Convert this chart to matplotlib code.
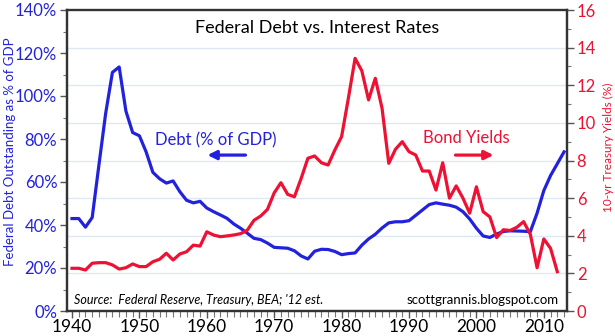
import numpy as np
import matplotlib
matplotlib.use("Agg")
import matplotlib.pyplot as plt
from matplotlib.ticker import MultipleLocator, FuncFormatter

# federal debt outstanding, % of GDP (year-end, '12 est)
debt_years = np.arange(1940, 2014)
debt_pct = [43, 43, 39, 43.5, 68, 92, 111, 113.5, 93, 83,
            81.5, 74, 64.5, 61.5, 59.5, 60.5, 55.5, 51.5, 50.3, 51,
            47.9, 46.2, 44.7, 43.1, 40.5, 38.5, 36.2, 33.8, 33.2, 31.6,
            29.6, 29.4, 29.2, 28, 25.6, 24.2, 27.8, 28.7, 28.6, 27.7,
            26.2, 26.7, 27, 30.6, 33.5, 35.7, 38.6, 41, 41.5, 41.5,
            42, 44.5, 47, 49.5, 50.3, 49.7, 49.2, 48.3, 46.2, 42.8,
            38.5, 34.9, 34.2, 35.8, 37, 37.3, 37.2, 37.1, 36.9, 45.5,
            56, 63, 68.5, 74]

# 10-yr treasury yield, %
yield_years = np.arange(1940, 2013)
yield_pct = [2.27, 2.27, 2.18, 2.54, 2.57, 2.57, 2.45, 2.23, 2.30, 2.50,
             2.36, 2.36, 2.62, 2.75, 3.07, 2.71, 3.03, 3.15, 3.5, 3.45,
             4.21, 4.04, 3.95, 3.99, 4.04, 4.11, 4.29, 4.82, 5.05, 5.4,
             6.28, 6.82, 6.2, 6.07, 7.05, 8.12, 8.24, 7.88, 7.76, 8.56,
             9.27, 11.3, 13.43, 12.77, 11.22, 12.37, 10.78, 7.85, 8.6, 9.0,
             8.47, 8.29, 7.44, 7.44, 6.43, 7.88, 6.0, 6.65, 6.0, 5.2,
             6.6, 5.28, 5.0, 3.9, 4.32, 4.28, 4.45, 4.75, 4.08, 2.3,
             3.83, 3.33, 2.09]

blue = '#2222dd'
red = '#ee1133'
grid_c = '#dde8f2'
fam = ['Lato', 'DejaVu Sans']

fig = plt.figure(figsize=(6.15, 3.36), dpi=100)
ax = fig.add_axes([67/615, 25/336, 500/615, 301/336])
ax2 = ax.twinx()

ax.set_xlim(1939.26, 2013.44)
ax.set_ylim(0, 140)
ax2.set_ylim(0, 16)

# grid follows the right axis ticks, drawn on the left axes so it stays under the lines
for g in np.arange(2, 16, 2):
    ax.axhline(g * 140 / 16, color=grid_c, lw=1, zorder=0)

ax.plot(debt_years, debt_pct, color=blue, lw=2.3, solid_joinstyle='round', zorder=3)
ax2.plot(yield_years, yield_pct, color=red, lw=2.3, solid_joinstyle='round', zorder=3)

ax.xaxis.set_major_locator(MultipleLocator(10))
ax.xaxis.set_minor_locator(MultipleLocator(1))
ax.yaxis.set_major_locator(MultipleLocator(20))
ax.yaxis.set_minor_locator(MultipleLocator(10))
ax.yaxis.set_major_formatter(FuncFormatter(lambda v, p: '%d%%' % v))
ax2.yaxis.set_major_locator(MultipleLocator(2))
ax2.yaxis.set_minor_locator(MultipleLocator(1))

for a in (ax, ax2):
    for s in a.spines.values():
        s.set_color('#333333')
        s.set_linewidth(1.6)
ax.spines['top'].set_color('#777777')

ax.tick_params(axis='x', which='major', length=5, width=1, color='#555555',
               labelsize=12.5, labelcolor='black', pad=1)
ax.tick_params(axis='x', which='minor', length=4, width=0.8, color='#777777')
ax.tick_params(axis='y', which='major', length=5, width=1, color='#555555',
               labelsize=12, labelcolor=blue, pad=2)
ax.tick_params(axis='y', which='minor', length=3, width=0.8, color='#777777')
ax2.tick_params(axis='y', which='major', length=5, width=1, color='#555555',
                labelsize=12, labelcolor=red, pad=2)
ax2.tick_params(axis='y', which='minor', length=3, width=0.8, color='#777777')
for lab in ax.get_xticklabels() + ax.get_yticklabels() + ax2.get_yticklabels():
    lab.set_family(fam)

ax.set_ylabel('Federal Debt Outstanding as % of GDP', color=blue, fontsize=9.5,
              family=fam)
ax.yaxis.set_label_coords(-0.101, 0.528)
ax2.set_ylabel('10-yr Treasury Yields (%)', color=red, fontsize=8.5,
               family=fam)
ax2.yaxis.set_label_coords(1.072, 0.545)

ax.text(0.5, 0.94, 'Federal Debt vs. Interest Rates', transform=ax.transAxes,
        ha='center', va='center', fontsize=13, family=fam, color='black')

ax.text(0.297, 0.568, 'Debt (% of GDP)', transform=ax.transAxes,
        ha='center', va='center', fontsize=12, family=fam, color=blue)
ax.annotate('', xy=(0.281, 0.518), xytext=(0.357, 0.518), xycoords='axes fraction',
            arrowprops=dict(arrowstyle='-|>', color=blue, lw=2.3, mutation_scale=13,
                            shrinkA=0, shrinkB=0))
ax.text(0.799, 0.575, 'Bond Yields', transform=ax.transAxes,
        ha='center', va='center', fontsize=12, family=fam, color=red)
ax.annotate('', xy=(0.853, 0.518), xytext=(0.777, 0.518), xycoords='axes fraction',
            arrowprops=dict(arrowstyle='-|>', color=red, lw=2.3, mutation_scale=13,
                            shrinkA=0, shrinkB=0))

ax.text(0.013, 0.037, "Source:  Federal Reserve, Treasury, BEA; '12 est.",
        transform=ax.transAxes, ha='left', va='center', fontsize=9,
        style='italic', family=fam, color='black')
ax.text(0.983, 0.037, 'scottgrannis.blogspot.com', transform=ax.transAxes,
        ha='right', va='center', fontsize=9.5, family=fam, color='black')

fig.savefig('out.png', dpi=100)
